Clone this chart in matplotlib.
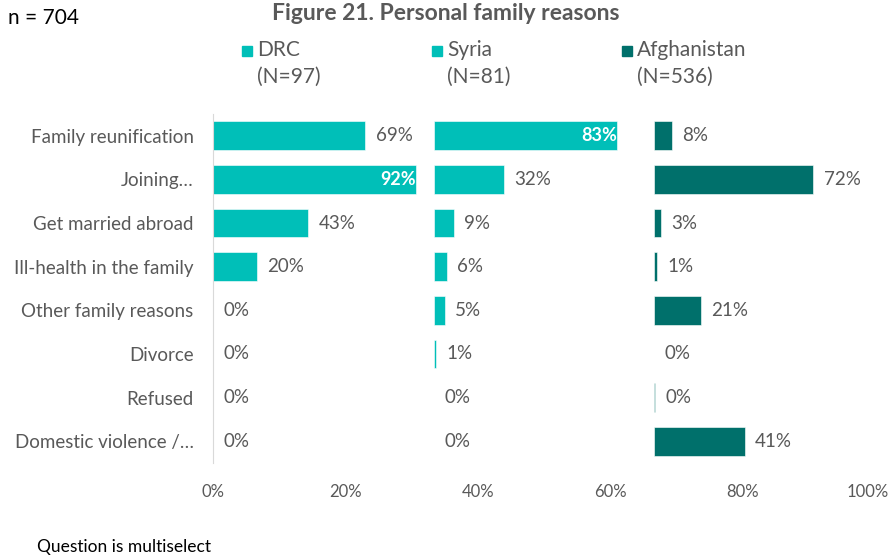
import numpy as np
import matplotlib.pyplot as plt
import matplotlib.transforms as mtransforms
from matplotlib.patches import Rectangle

plt.rcParams['font.family'] = ['Lato', 'DejaVu Sans']

CATEGORIES = ['Family reunification', 'Joining…', 'Get married abroad',
              'Ill-health in the family', 'Other family reasons', 'Divorce',
              'Refused', 'Domestic violence /…']
GROUPS  = ['DRC', 'Syria', 'Afghanistan']
GROUP_N = [97, 81, 536]
DRC         = [69, 92, 43, 20, 0, 0, 0, 0]
SYRIA       = [83, 32, 9, 6, 5, 1, 0, 0]
AFGHANISTAN = [8, 72, 3, 1, 21, 0, 0.3, 41]
COLORS = ['#00BFB8', '#00BFB8', '#00706B']
GREY = '#595959'

fig = plt.figure(figsize=(8.92, 5.59), dpi=100)
ax = fig.add_axes([213 / 892, 1 - 463 / 559, 662 / 892, 349 / 559])

y = np.arange(len(CATEGORIES))
for g, (vals, col) in enumerate(zip([DRC, SYRIA, AFGHANISTAN], COLORS)):
    vals = np.array(vals) / 100
    offset = g / 3
    ax.barh(y, vals / 3, left=offset, height=0.66, color=col,
            edgecolor='white', linewidth=0.4)
    for yi, v in zip(y, vals):
        txt = f'{v * 100:.0f}%'
        end = offset + v / 3
        if v > 0.8:
            ax.annotate(txt, (end, yi), xytext=(0, 0), textcoords='offset points',
                        ha='right', va='center', color='white', fontsize=13,
                        fontweight='bold')
        else:
            ax.annotate(txt, (end, yi), xytext=(7.5, 0), textcoords='offset points',
                        ha='left', va='center', color=GREY, fontsize=13.5)

ax.set_xlim(0, 1)
ax.set_ylim(len(CATEGORIES) - 0.5, -0.5)
ax.set_yticks(y)
ax.set_yticklabels(CATEGORIES, fontsize=13.5, color=GREY)
ax.set_xticks(np.linspace(0, 1, 6))
ax.set_xticklabels([f'{int(t)}%' for t in np.linspace(0, 100, 6)],
                   fontsize=12, color=GREY)
ax.tick_params(length=0)
ax.tick_params(axis='y', pad=14)
ax.tick_params(axis='x', pad=15)
# keep "100%" inside the figure edge
last = ax.get_xticklabels()[-1]
last.set_transform(last.get_transform() +
                   mtransforms.ScaledTranslation(-7 / 100, 0, fig.dpi_scale_trans))
for s in ['top', 'right', 'bottom']:
    ax.spines[s].set_visible(False)
ax.spines['left'].set_color('#D9D9D9')

# legend drawn by hand so the square sits on the first line
leg_x = [257, 447, 637]
for name, n, col, lx in zip(GROUPS, GROUP_N, COLORS, leg_x):
    fig.add_artist(Rectangle(((lx - 15) / 892, 1 - 56 / 559), 10 / 892, 10 / 559,
                             transform=fig.transFigure, color=col))
    fig.text(lx / 892, 1 - 50 / 559, name, fontsize=15, color=GREY, va='center')
    fig.text(lx / 892, 1 - 77 / 559, f'(N={n})', fontsize=15, color=GREY, va='center')

fig.text(0.5, 1 - 14 / 559, 'Figure 21. Personal family reasons', ha='center',
         va='center', fontsize=16.5, fontweight='bold', color=GREY)
fig.text(8 / 892, 1 - 18 / 559, 'n = 704', fontsize=15, va='center', color='black')
fig.text(37 / 892, 1 - 547 / 559, 'Question is multiselect', fontsize=12.5,
         va='center', color='black')

fig.savefig('out.png', dpi=100)
